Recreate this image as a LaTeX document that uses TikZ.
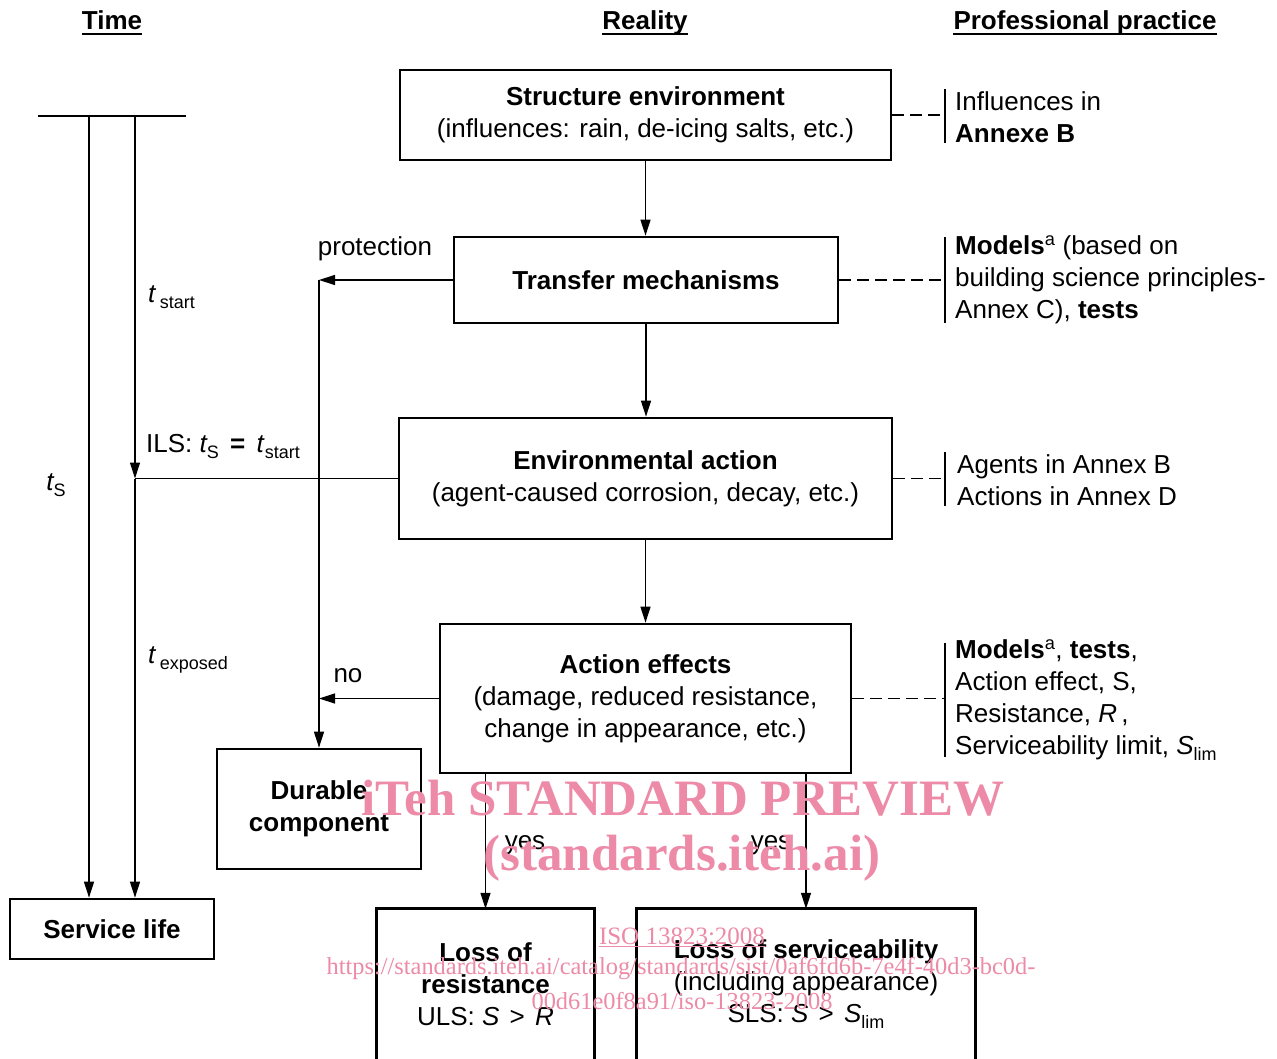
\documentclass[tikz,border=0pt]{standalone}
\usepackage{fontspec}
\setmainfont{Liberation Sans}
\newfontfamily\wmfont{Liberation Serif}
\usetikzlibrary{arrows.meta,calc}
\definecolor{wmpink}{RGB}{236,138,168}
\begin{document}
\begin{tikzpicture}[x=1pt,y=-1pt,
  txt/.style={font=\fontsize{26}{32}\selectfont, inner sep=0pt},
  box/.style={txt, draw, line width=2.7pt, align=center},
  tbox/.style={txt, align=center},
  conn/.style={line width=1.3pt, -{Triangle[length=16pt,width=10pt]}},
  plain/.style={line width=1.3pt},
  dashc/.style={line width=1.1pt, dash pattern=on 12pt off 6pt},
  bar/.style={line width=2.4pt},
  frame/.style={line width=2.7pt},
  title/.style={font=\fontsize{26}{32}\selectfont\bfseries, inner sep=0pt, anchor=base},
  side/.style={txt, align=left, anchor=west},
  wmbig/.style={text=wmpink, inner sep=0pt, font=\wmfont\bfseries\fontsize{51}{51}\selectfont},
  wmsmall/.style={text=wmpink, inner sep=0pt, font=\wmfont\fontsize{25}{25}\selectfont},
  wmurl/.style={text=wmpink, inner sep=0pt, font=\wmfont\fontsize{24.4}{25}\selectfont}]
\useasboundingbox (0,0) rectangle (1277,1059);

% titles
\node[title] (ttime) at (112,30) {Time};
\node[title] (treal) at (645,30) {Reality};
\node[title] (tprof) at (1085,30) {Professional practice};
\foreach \n in {ttime,treal,tprof}
  \draw[line width=1.8pt] ($(\n.base west)+(0,4)$) -- ($(\n.base east)+(0,4)$);

% reality boxes
\node[box, minimum width=491pt, minimum height=90pt] (se) at (645.5,115)
  {\textbf{Structure environment}\\(influences: rain, de-icing salts, etc.)};
\node[box, minimum width=384pt, minimum height=86pt] (tm) at (646,280)
  {\textbf{Transfer mechanisms}};
\node[box, minimum width=493pt, minimum height=121pt] (ea) at (645.5,478.5)
  {\textbf{Environmental action}\\(agent-caused corrosion, decay, etc.)};
\node[box, minimum width=411pt, minimum height=149pt] (ae) at (645.5,698.5)
  {\textbf{Action effects}\\(damage, reduced resistance,\\change in appearance, etc.)};
\node[box, minimum width=204pt, minimum height=120pt] (dc) at (319,809)
  {\textbf{Durable}\\\textbf{component}};
\node[box, minimum width=204pt, minimum height=60pt] (sl) at (112,929)
  {\textbf{Service life}};
\node[tbox, minimum width=217pt, minimum height=150pt] (lr) at (485.5,984)
  {\textbf{Loss of}\\\textbf{resistance}\\ULS: {\itshape S}\hspace{3pt} {>}\hspace{3pt} {\itshape R}};
\node[tbox, minimum width=338pt, minimum height=150pt] (ls) at (806,984)
  {\textbf{Loss of serviceability}\\(including appearance)\\SLS: {\itshape S}\hspace{3pt} {>}\hspace{3pt} {\itshape S}\raisebox{-6pt}{\fontsize{18}{18}\selectfont lim}};
\draw[frame] ($(lr.south west)+(0,12)$) -- (lr.north west) -- (lr.north east) -- ($(lr.south east)+(0,12)$);
\draw[frame] ($(ls.south west)+(0,12)$) -- (ls.north west) -- (ls.north east) -- ($(ls.south east)+(0,12)$);

% main flow
\draw[conn] (se.south) -- (se.south |- tm.north);
\draw[conn] (tm.south) -- (tm.south |- ea.north);
\draw[conn] (ea.south) -- (ea.south |- ae.north);
\coordinate (pc) at (dc.north |- tm.west);
\draw[conn] (tm.west) -- (pc);
\draw[conn] (pc) -- (dc.north);
\draw[conn] (ae.west) -- (ae.west -| dc.north);
\draw[conn] (lr.north |- ae.south) -- (lr.north);
\draw[conn] (ls.north |- ae.south) -- (ls.north);
\node[txt] (lprot) at (375,249) {protection};
\node[txt] (lno) at (348,676) {no};
\node[txt] (lyes1) at (525,845) {yes};
\node[txt] (lyes2) at (771,845) {yes};

% time axis
\coordinate (tl) at (38,116);
\coordinate (tr) at (186,116);
\draw[frame] (tl) -- (tr);
\coordinate (a1) at (89,116);
\coordinate (a2) at (135,116);
\coordinate (ils) at (a2 |- ea.west);
\draw[conn] (a1) -- (a1 |- sl.north);
\draw[conn] (a2) -- (ils);
\draw[conn] (ils) -- (a2 |- sl.north);
\draw[plain] (ils) -- (ea.west);
\node[txt, anchor=west] (lstart) at (148,297) {{\itshape t}\,\raisebox{-6pt}{\fontsize{18}{18}\selectfont start}};
\node[txt] (lts) at (56,485) {{\itshape t}\raisebox{-6pt}{\fontsize{18}{18}\selectfont S}};
\node[txt, anchor=west] (lils) at (146,447) {ILS: {\itshape t}\raisebox{-6pt}{\fontsize{18}{18}\selectfont S}\hspace{4pt} \textbf{=}\hspace{4pt} {\itshape t}\hspace{1pt}\raisebox{-6pt}{\fontsize{18}{18}\selectfont start}};
\node[txt, anchor=west] (lexp) at (148,660) {{\itshape t}\,\raisebox{-6pt}{\fontsize{18}{18}\selectfont exposed}};

% professional practice
\coordinate (b1) at (945,116);
\coordinate (b2) at (945,280);
\coordinate (b3) at (945,479);
\coordinate (b4) at (945,700);
\draw[dashc] (se.east) -- (se.east -| b1);
\draw[dashc] (tm.east) -- (tm.east -| b2);
\draw[dashc] (ea.east) -- (ea.east -| b3);
\draw[dashc] (ae.east) -- (ae.east -| b4);
\draw[bar] ($(b1)+(0,-27)$) -- ($(b1)+(0,27)$);
\draw[bar] ($(b2)+(0,-43)$) -- ($(b2)+(0,43)$);
\draw[bar] ($(b3)+(0,-27)$) -- ($(b3)+(0,27)$);
\draw[bar] ($(b4)+(0,-57)$) -- ($(b4)+(0,57)$);
\node[side] (p1) at (955,117) {Influences in\\\textbf{Annexe B}};
\node[side] (p2) at (955,280) {\textbf{Models}\textsuperscript{\mdseries a} (based on\\building science principles-\\Annex C), \textbf{tests}};
\node[side] (p3) at (957,480) {Agents in Annex B\\Actions in Annex D};
\node[side] (p4) at (955,700) {\textbf{Models}\textsuperscript{\mdseries a}, \textbf{tests},\\Action effect, S,\\Resistance, {\itshape R}\,,\\Serviceability limit, {\itshape S}\raisebox{-6pt}{\fontsize{18}{18}\selectfont lim}};

% watermark
\node[wmbig] (w1) at (683,798) {iTeh STANDARD PREVIEW};
\node[wmbig] (w2) at (682,858) {(standards.iteh.ai)};
\node[wmsmall] (w3) at (682,937) {\underline{ISO 13823:2008}};
\node[wmurl] (w4) at (681,969) {https://standards.iteh.ai/catalog/standards/sist/0af6fd6b-7e4f-40d3-bc0d-};
\node[wmurl] (w5) at (682,1001) {00d61e0f8a91/iso-13823-2008};
\end{tikzpicture}
\end{document}
